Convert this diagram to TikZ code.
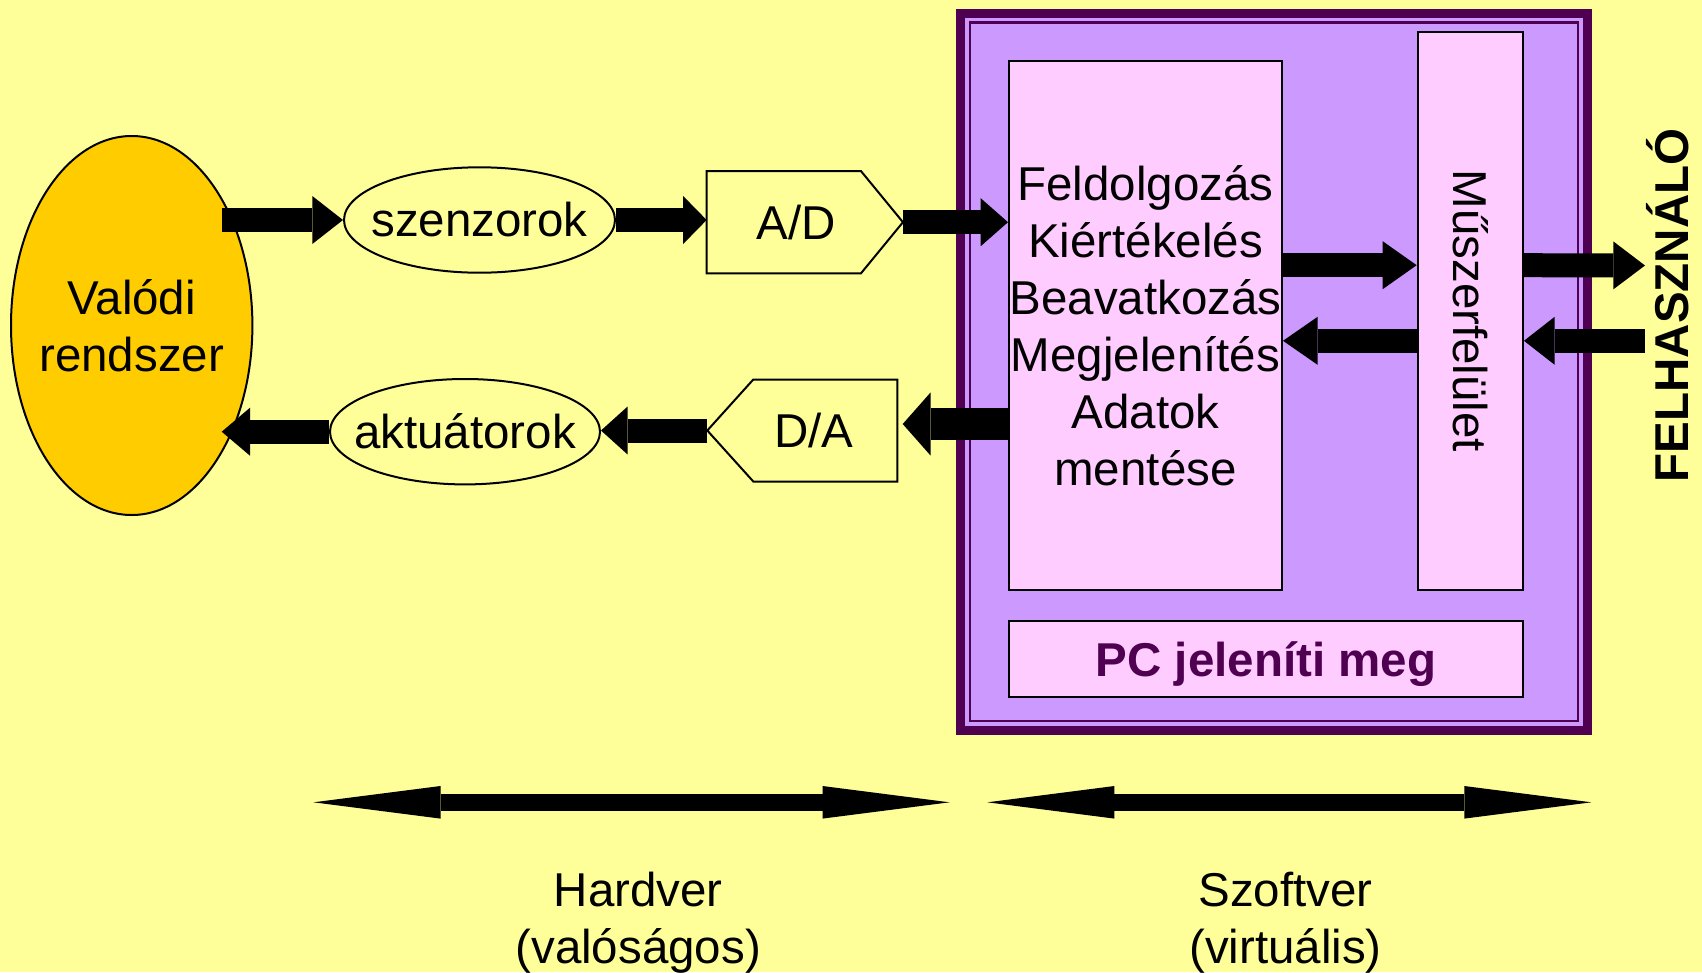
\documentclass[tikz,border=0pt]{standalone}
\usepackage{fontspec}
\usepackage{graphicx}
\setmainfont{Liberation Sans}
\usetikzlibrary{arrows.meta,calc,shapes.geometric}

\definecolor{bgyellow}{HTML}{FFFF99}
\definecolor{sysorange}{HTML}{FFCC00}
\definecolor{pclilac}{HTML}{CC99FF}
\definecolor{boxpink}{HTML}{FFCCFF}
\definecolor{plum}{HTML}{500050}

\begin{document}
\begin{tikzpicture}[x=1pt,y=-1pt,
  txt/.style={font=\fontsize{47.5}{57}\selectfont},
  boldtxt/.style={font=\fontsize{47.5}{57}\selectfont\bfseries},
  outline/.style={draw=black,line width=2pt},
  oval/.style={ellipse,outline,inner sep=0pt},
  pinkbox/.style={rectangle,outline,fill=boxpink,inner sep=0pt},
  fat/.style={line width=24pt,-{Triangle[length=#1,width=48pt,line width=0pt]}},
  fat/.default=30pt,
  fatwide/.style={line width=32pt,-{Triangle[length=28pt,width=63.4pt,line width=0pt]}},
  rangearrow/.style={line width=17pt,{Triangle[length=127pt,width=32.6pt,line width=0pt]}-{Triangle[length=127pt,width=32.6pt,line width=0pt]}}
]
\useasboundingbox (0,0) rectangle (1702,972);
\fill[bgyellow] (0,0) rectangle (1702,972);

% real system
\node[oval, fill=sysorange, minimum width=241.4pt, minimum height=379pt] (valodi) at (131.7,325.5) {};
\node[txt, align=center] (valodilbl) at (valodi.center) {Valódi\\rendszer};

% sensors and actuators
\node[oval, minimum width=271pt, minimum height=105.4pt] (szenz) at (479.5,220) {};
\node[txt] (szenzlbl) at (szenz.center) {szenzorok};
\node[oval, minimum width=270pt, minimum height=105.4pt] (akt) at (465,431.7) {};
\node[txt] (aktlbl) at (akt.center) {aktuátorok};

% converters
\node[txt, minimum width=196.3pt, minimum height=102.3pt, inner sep=0pt, outer sep=0pt] (ad) at (804.8,222.2) {\hspace*{-17.6pt}A/D};
\draw[outline] (ad.north west) -- ($(ad.north east)+(-42,0)$) -- (ad.east)
  -- ($(ad.south east)+(-42,0)$) -- (ad.south west) -- cycle;
\node[txt, minimum width=190pt, minimum height=102pt, inner sep=0pt, outer sep=0pt] (da) at (802.3,430.5) {D/A\hspace*{-23pt}};
\draw[outline] (da.west) -- ($(da.north west)+(46,0)$) -- (da.north east)
  -- (da.south east) -- ($(da.south west)+(46,0)$) -- cycle;

% PC frame with thick-thin border
\node[rectangle, draw=plum, line width=9pt, fill=pclilac, minimum width=627pt, minimum height=717.5pt, inner sep=0pt] (pc) at (1274,371.75) {};
\draw[plum, line width=2.5pt] ($(pc.north west)+(14,14)$) rectangle ($(pc.south east)+(-14,-14)$);

\node[pinkbox, txt, align=center, minimum width=273pt, minimum height=529pt] (feld) at (1145.5,325.5)
  {Feldolgozás\\Kiértékelés\\Beavatkozás\\Megjelenítés\\Adatok\\mentése};
\node[pinkbox, txt, minimum width=105.3pt, minimum height=558.5pt] (musz) at (1470.3,310.8)
  {\rotatebox{-90}{Műszerfelület}};
\node[pinkbox, boldtxt, text=plum, text height=35pt, text depth=0pt, minimum width=514pt, minimum height=75.7pt] (pcdisp) at (1266,658.8)
  {PC jeleníti meg};

% user
\node[boldtxt, rotate=90] (user) at (1668,305.5) {FELHASZNÁLÓ};

% signal levels and free ends
\coordinate (rowB) at (0,265.2);
\coordinate (rowC) at (0,340.8);
\coordinate (rowD) at (0,424);
\coordinate (vOut) at ($(valodi.center)+(90,-105.5)$);
\coordinate (vIn) at ($(valodi.center)+(90,106.2)$);
\coordinate (usrOut) at (1645,265.5);
\coordinate (usrIn) at (1645,340.8);

% signal flow
\draw[fat=30.7pt] (vOut) -- (szenz.west);
\draw[fat=23.5pt] (szenz.east) -- (szenz.east -| ad.west);
\draw[fat=27.3pt] (ad.east) -- (ad.east -| feld.west);
\draw[fat=34pt] (feld.east |- rowB) -- (musz.west |- rowB);
\draw[fat=34.6pt] (musz.west |- rowC) -- (feld.east |- rowC);
\draw[fat=31.7pt] (musz.east |- rowB) -- (usrOut);
\draw[fat=30.7pt] (usrIn) -- (musz.east |- usrIn);
\draw[fatwide, shorten >=5.4pt] (feld.west |- rowD) -- (da.east |- rowD);
\draw[fat=26.6pt] (da.west) -- (da.west -| akt.east);
\draw[fat=28.3pt] (akt.west) -- (vIn);

% hardware / software ranges
\coordinate (hwL) at (313.5,802.3);
\coordinate (hwR) at (949.5,802.3);
\coordinate (swL) at (987.4,802.3);
\coordinate (swR) at (1591.3,802.3);
\draw[rangearrow] (hwL) -- (hwR);
\draw[rangearrow] (swL) -- (swR);
\node[txt, align=center] (hwlbl) at (638.2,922.7) {Hardver\\(valóságos)};
\node[txt, align=center] (swlbl) at (1285.5,922.7) {Szoftver\\(virtuális)};
\end{tikzpicture}
\end{document}
